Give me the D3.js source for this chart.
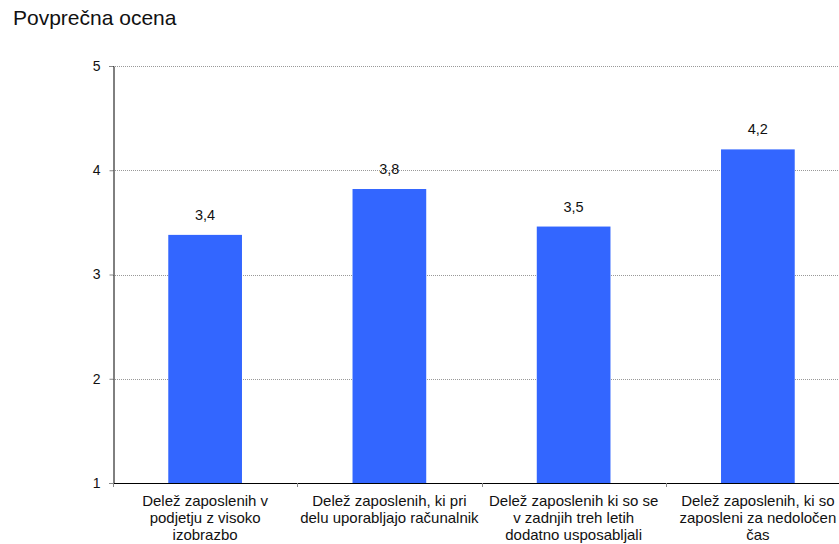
<!DOCTYPE html>
<html>
<head>
<meta charset="utf-8">
<script src="https://cdn.jsdelivr.net/npm/d3@7"></script>
<style>
  html, body { margin: 0; padding: 0; background: #fff; }
  svg { display: block; font-family: Arial, "Liberation Sans", sans-serif; }
</style>
</head>
<body>
<svg id="chart" width="839" height="544"></svg>
<script>
// Average rating per workforce indicator
const categories = [
  "Delež zaposlenih v\npodjetju z visoko\nizobrazbo",
  "Delež zaposlenih, ki pri\ndelu uporabljajo računalnik",
  "Delež zaposlenih ki so se\nv zadnjih treh letih\ndodatno usposabljali",
  "Delež zaposlenih, ki so\nzaposleni za nedoločen\nčas"
];
const values = [3.38, 3.82, 3.46, 4.2];
const yTicks = [1, 2, 3, 4, 5];
const title = "Povprečna ocena";

const svg = d3.select("#chart");
const margin = { left: 113, top: 66, bottom: 483 };
const plotRight = 850;

const x = d3.scaleBand()
  .domain(categories)
  .range([margin.left, plotRight])
  .paddingInner(0.6)
  .paddingOuter(0.3);

const y = d3.scaleLinear().domain([1, 5]).range([margin.bottom, margin.top]);

// title
svg.append("text")
  .attr("x", 13).attr("y", 25)
  .attr("font-size", 21)
  .attr("fill", "#111")
  .text(title);

// dotted gridlines
svg.append("g")
  .selectAll("line")
  .data(yTicks.filter(d => d > 1))
  .join("line")
  .attr("x1", margin.left).attr("x2", plotRight)
  .attr("y1", d => Math.round(y(d)) + 0.5).attr("y2", d => Math.round(y(d)) + 0.5)
  .attr("stroke", "#999")
  .attr("stroke-width", 1)
  .attr("stroke-dasharray", "1,1");

// bars
svg.append("g")
  .selectAll("rect")
  .data(values)
  .join("rect")
  .attr("x", (d, i) => x(categories[i]))
  .attr("width", x.bandwidth())
  .attr("y", d => y(d))
  .attr("height", d => y(1) - y(d))
  .attr("fill", "#3366ff");

// value labels
const fmt = d => d3.format(".1f")(d).replace(".", ",");
svg.append("g")
  .selectAll("text")
  .data(values)
  .join("text")
  .attr("x", (d, i) => x(categories[i]) + x.bandwidth() / 2)
  .attr("y", d => y(d) - 15)
  .attr("text-anchor", "middle")
  .attr("font-size", 14.5)
  .attr("fill", "#111")
  .text(fmt);

// y axis
const yAxis = svg.append("g")
  .attr("transform", `translate(${margin.left + 0.5},0)`)
  .call(d3.axisLeft(y).tickValues(yTicks).tickFormat(d3.format("d")).tickSize(4).tickPadding(9));
yAxis.select(".domain").attr("stroke", "#000");
yAxis.selectAll(".tick line").attr("stroke", "#888");
yAxis.selectAll(".tick text")
  .attr("font-size", 14)
  .attr("font-family", "Arial, 'Liberation Sans', sans-serif")
  .attr("fill", "#111");

// x axis baseline with category boundary ticks
const xg = svg.append("g");
xg.append("line")
  .attr("x1", margin.left).attr("x2", plotRight)
  .attr("y1", margin.bottom + 0.5).attr("y2", margin.bottom + 0.5)
  .attr("stroke", "#000");
const bounds = d3.range(categories.length + 1).map(i => margin.left + i * (plotRight - margin.left) / categories.length);
xg.selectAll("line.b")
  .data(bounds)
  .join("line")
  .attr("class", "b")
  .attr("x1", d => Math.round(d) + 0.5).attr("x2", d => Math.round(d) + 0.5)
  .attr("y1", margin.bottom).attr("y2", margin.bottom + 4)
  .attr("stroke", "#888");

// category labels
const lab = svg.append("g")
  .selectAll("text")
  .data(categories)
  .join("text")
  .attr("text-anchor", "middle")
  .attr("font-size", 15)
  .attr("fill", "#111");
lab.each(function(d) {
  const cx = x(d) + x.bandwidth() / 2;
  d3.select(this).selectAll("tspan")
    .data(d.split("\n"))
    .join("tspan")
    .attr("x", cx)
    .attr("y", (t, j) => 506 + j * 17)
    .text(t => t);
});
</script>
</body>
</html>
